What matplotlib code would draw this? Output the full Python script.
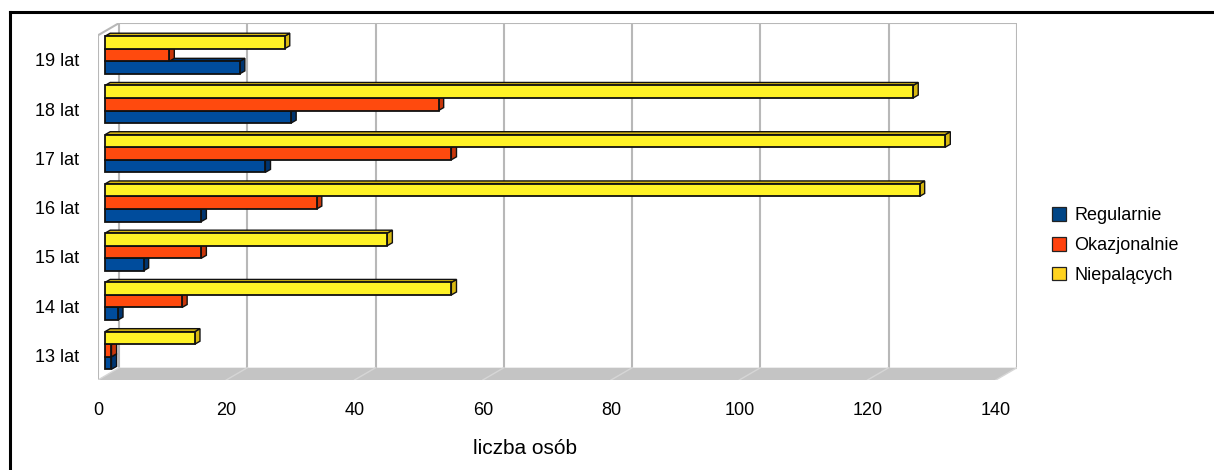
import matplotlib.pyplot as plt
from matplotlib.patches import Polygon, Patch
from matplotlib.lines import Line2D

plt.rcParams['font.family'] = ['Liberation Sans', 'DejaVu Sans']

# data
ages = ['13 lat', '14 lat', '15 lat', '16 lat', '17 lat', '18 lat', '19 lat']
regularnie = [1, 2, 6, 15, 25, 29, 21]
okazjonalnie = [1, 12, 15, 33, 54, 52, 10]
niepalacych = [14, 54, 44, 127, 131, 126, 28]
series_names = ['Regularnie', 'Okazjonalnie', 'Niepalących']
xticks = [0, 20, 40, 60, 80, 100, 120, 140]

front_colors = ['#004c9c', '#ff4a0e', '#fff226']
side_colors = ['#003570', '#c8360a', '#d8b810']
legend_colors = ['#004586', '#ff420e', '#ffd320']

# pseudo-3d geometry (data units)
DX, DY = 3.3, 0.25          # depth of the wall box
BX, BY = 1.1, 0.10          # where bars sit inside the box
BDX, BDY = 0.8, 0.06        # depth of each bar
H = 0.255                   # bar thickness
XMAX = 140

fig = plt.figure(figsize=(12.14, 4.70), dpi=100)
ax = fig.add_axes([98 / 1214, 90 / 470, 919 / 1214, 357 / 470])
ax.set_xlim(0, XMAX + DX)
ax.set_ylim(-0.5, len(ages) - 0.5 + DY)
for s in ax.spines.values():
    s.set_visible(False)

grid_c = '#b8b8b8'
top = len(ages) - 0.5
# back wall grid
for v in xticks:
    ax.plot([v + DX, v + DX], [-0.5 + DY, top + DY], color=grid_c, lw=1.5, zorder=1)
ax.plot([DX, XMAX + DX], [top + DY, top + DY], color=grid_c, lw=1.5, zorder=1)
# left side wall
ax.plot([0, 0], [-0.5, top], color=grid_c, lw=1.5, zorder=1)
ax.plot([0, DX], [top, top + DY], color=grid_c, lw=1.5, zorder=1)

# floor
floor = Polygon([(0, -0.5), (XMAX, -0.5), (XMAX + DX, -0.5 + DY), (DX, -0.5 + DY)],
                closed=True, facecolor='#c4c4c4', edgecolor='none', zorder=1)
ax.add_patch(floor)
for v in xticks:
    ax.plot([v, v + DX], [-0.5, -0.5 + DY], color='#d6d6d6', lw=1, zorder=1.5)

# bars: blue bottom, red middle, yellow top
edge = '#111111'
all_series = [regularnie, okazjonalnie, niepalacych]
for k, vals in enumerate(all_series):
    z = 3 + k
    ys = [i + BY + (k - 1) * H for i in range(len(ages))]
    ax.barh(ys, vals, left=BX, height=H, color=front_colors[k],
            edgecolor=edge, linewidth=1.3, zorder=z)
    for y, v in zip(ys, vals):
        x1 = BX + v
        lo, hi = y - H / 2, y + H / 2
        side = Polygon([(x1, lo), (x1 + BDX, lo + BDY), (x1 + BDX, hi + BDY), (x1, hi)],
                       closed=True, facecolor=side_colors[k], edgecolor=edge,
                       linewidth=1.0, zorder=z - 0.1)
        topf = Polygon([(BX, hi), (BX + BDX, hi + BDY), (x1 + BDX, hi + BDY), (x1, hi)],
                       closed=True, facecolor=side_colors[k], edgecolor=edge,
                       linewidth=1.0, zorder=z - 0.1)
        ax.add_patch(side)
        ax.add_patch(topf)

ax.set_xticks(xticks)
ax.set_xticklabels([str(v) for v in xticks], fontsize=13)
ax.set_yticks(range(len(ages)))
ax.set_yticklabels(ages, fontsize=13)
ax.tick_params(axis='x', length=0, pad=16)
ax.tick_params(axis='y', length=0, pad=13.5)
ax.set_xlabel('liczba osób', fontsize=15)
ax.xaxis.set_label_coords(0.465, -0.165)

handles = [Patch(facecolor=c, edgecolor='#222222', linewidth=0.9) for c in legend_colors]
fig.legend(handles, series_names, loc='upper left', bbox_to_anchor=(1052 / 1214, 1 - 207 / 470),
           frameon=False, fontsize=13, handlelength=0.8, handleheight=0.8,
           handletextpad=0.45, labelspacing=0.7, borderpad=0, borderaxespad=0)

# outer frame (top and left edges visible)
fy = 1 - 11.5 / 470
fx = 9.5 / 1214
fig.add_artist(Line2D([fx, 1], [fy, fy], color='black', lw=2.2, solid_capstyle='projecting'))
fig.add_artist(Line2D([fx, fx], [0, fy], color='black', lw=2.2, solid_capstyle='projecting'))

fig.savefig('out.png', dpi=100)
